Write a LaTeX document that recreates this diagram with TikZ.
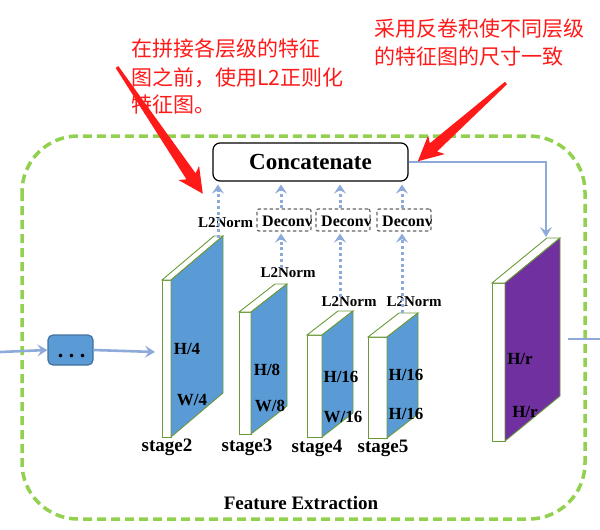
\documentclass[tikz,border=0pt]{standalone}
\usepackage{fontspec}
\setmainfont{Liberation Serif}
\newfontfamily\cjk{Noto Sans CJK SC}
\usetikzlibrary{arrows.meta,calc}
\definecolor{gborder}{HTML}{92D050}
\definecolor{lblue}{HTML}{8EAADB}
\definecolor{sblue}{HTML}{5B9BD5}
\definecolor{dblue}{HTML}{41719C}
\definecolor{purp}{HTML}{7030A0}
\definecolor{sgreen}{HTML}{6A9A3A}
\definecolor{redc}{HTML}{FF1A1A}
\newcommand{\myslab}[7]{%
  \filldraw[slabline, fill=white] (#1,#3) rectangle ({#1+#2},#4);
  \filldraw[slabline, fill=white] (#1,#3) -- ({#1+#2},#3) -- ({#1+#2+#5},{#3-#6}) -- ({#1+#5},{#3-#6}) -- cycle;
  \filldraw[slabline, fill=#7] ({#1+#2},#3) -- ({#1+#2+#5},{#3-#6}) -- ({#1+#2+#5},{#4-#6}) -- ({#1+#2},#4) -- cycle;}
\newcommand{\redarrow}[3]{%
  \begin{scope}[shift={#1}, rotate=#2]
    \fill[redc] (0,1.6) -- ({#3-21},5.5) -- ({#3-25},12.5) -- (#3,0) -- ({#3-25},-12.5) -- ({#3-21},-5.5) -- (0,-1.6) -- cycle;
  \end{scope}}
\begin{document}
\begin{tikzpicture}[x=1pt,y=-1pt,
  slabline/.style={draw=sgreen, line width=0.9pt},
  dimlbl/.style={font=\bfseries\fontsize{17}{17}\selectfont, inner sep=0},
  stagelbl/.style={font=\bfseries\fontsize{19}{19}\selectfont, inner sep=0, anchor=base},
  normlbl/.style={font=\bfseries\fontsize{15}{15}\selectfont, inner sep=0},
  deconvbox/.style={draw=black!60, dashed, dash pattern=on 3.5pt off 2.5pt, line width=1.2pt, rounded corners=2pt, minimum width=54pt, minimum height=22pt, inner sep=0},
  deconvtxt/.style={font=\bfseries\fontsize{16}{16}\selectfont, inner sep=0, anchor=west},
  dotarrow/.style={draw=lblue, line width=3pt, dash pattern=on 3pt off 2.8pt, -{Stealth[length=9pt,width=12pt,inset=3.5pt]}},
  bluearrow/.style={draw=lblue, line width=2.6pt, -{Stealth[length=10pt,width=12pt,inset=4pt]}},
  cjktxt/.style={font=\cjk\fontsize{21}{21}\selectfont, text=redc, inner sep=0, anchor=west}]
\useasboundingbox (0,0) rectangle (600,530);
% feature extraction frame
\draw[gborder, line width=3.5pt, dash pattern=on 9pt off 5pt, rounded corners=56pt] (22,136) rectangle (585,519);
\node[font=\bfseries\fontsize{19}{19}\selectfont, inner sep=0] (fe) at (301,503) {Feature Extraction};
% concatenate
\node[draw=black, line width=1.2pt, rounded corners=7pt, minimum width=195pt, minimum height=38pt, inner sep=0,
      font=\bfseries\fontsize{23}{23}\selectfont] (cat) at (310.5,162) {Concatenate};
% slabs
\myslab{162}{9}{280}{437}{52}{44}{sblue}
\myslab{239}{12}{312}{434}{36}{28}{sblue}
\myslab{307}{15}{335}{437}{31}{24}{sblue}
\myslab{368}{19}{337}{438}{31}{24}{sblue}
\myslab{492}{13}{283}{441}{55}{45}{purp}
\coordinate (s2top) at (218,238);
\coordinate (s2in) at (155,352);
\coordinate (s5top) at (402,313);
\coordinate (prtop) at (546,237);
\coordinate (prout) at (568,339);
\coordinate (outend) at (600,339);
\coordinate (inbeg) at (0,352);
% dimension labels
\node[dimlbl] (a1) at (187,349) {H/4};
\node[dimlbl] (a2) at (192,400) {W/4};
\node[dimlbl] (b1) at (267,370) {H/8};
\node[dimlbl] (b2) at (270,406) {W/8};
\node[dimlbl] (c1) at (341,377) {H/16};
\node[dimlbl] (c2) at (343,417) {W/16};
\node[dimlbl] (e1) at (406,375) {H/16};
\node[dimlbl] (e2) at (406,414) {H/16};
\node[dimlbl] (p1) at (520,359) {H/r};
\node[dimlbl] (p2) at (525,412) {H/r};
% stage labels
\node[stagelbl] (st2) at (167,451) {stage2};
\node[stagelbl] (st3) at (247,451) {stage3};
\node[stagelbl] (st4) at (317,452) {stage4};
\node[stagelbl] (st5) at (383,452) {stage5};
% input
\node[fill=sblue, draw=dblue, line width=1.2pt, rounded corners=5pt, minimum width=45pt, minimum height=30pt, inner sep=0] (dots) at (70.5,350) {};
\node[font=\bfseries\fontsize{22}{22}\selectfont, inner sep=0, anchor=base] (dt) at (71.5,357) {.\hspace{5.5pt}.\hspace{5.5pt}.};
\draw[bluearrow] (inbeg) -- (dots.west);
\draw[bluearrow] (dots.east) -- (s2in);
% deconv boxes
\node[deconvbox] (d1) at (284,220) {};
\node[deconvbox] (d2) at (343,220) {};
\node[deconvbox] (d3) at (404,220) {};
\begin{scope}
  \clip (d1.south west) rectangle (d1.north east);
  \node[deconvtxt] (t1) at (262,221) {Deconv};
\end{scope}
\begin{scope}
  \clip (d2.south west) rectangle (d2.north east);
  \node[deconvtxt] (t2) at (321,221) {Deconv};
\end{scope}
\begin{scope}
  \clip (d3.south west) rectangle (d3.north east);
  \node[deconvtxt] (t3) at (382,221) {Deconv};
\end{scope}
% L2Norm labels
\node[normlbl] (n1) at (225.5,223) {L2Norm};
\node[normlbl] (n2) at (288,273) {L2Norm};
\node[normlbl] (n3) at (349,302) {L2Norm};
\node[normlbl] (n4) at (414,302) {L2Norm};
% dotted arrows
\draw[dotarrow, shorten >=3pt] (s2top) -- (cat.south -| s2top);
\coordinate (k2) at (281,0);
\coordinate (k3) at (340,0);
\coordinate (k4) at (402,0);
\draw[dotarrow, shorten >=3pt] (d1.north -| k2) -- (cat.south -| k2);
\draw[dotarrow, shorten >=3pt] (d2.north -| k3) -- (cat.south -| k3);
\draw[dotarrow, shorten >=3pt] (d3.north -| k4) -- (cat.south -| k4);
\draw[dotarrow, shorten >=2pt] (n2.north -| k2) -- (d1.south -| k2);
\draw[dotarrow, shorten >=2pt] (n3.north -| k3) -- (d2.south -| k3);
\draw[dotarrow, shorten >=2pt] (s5top) -- (d3.south -| k4);
% concat to output
\draw[bluearrow] (cat.east) -- (cat.east -| prtop) -- (prtop);
\draw[draw=lblue, line width=2.6pt] (prout) -- (outend);
% annotations
\node[cjktxt] (l1) at (131,49) {在拼接各层级的特征};
\node[cjktxt] (l2) at (131,78) {图之前，使用L2正则化};
\node[cjktxt] (l3) at (131,105) {特征图。};
\node[cjktxt] (r1) at (374,29) {采用反卷积使不同层级};
\node[cjktxt] (r2) at (374,57) {的特征图的尺寸一致};
\redarrow{(117,67)}{-55.9}{153}
\redarrow{(506,83)}{-138.4}{118}
\end{tikzpicture}
\end{document}
